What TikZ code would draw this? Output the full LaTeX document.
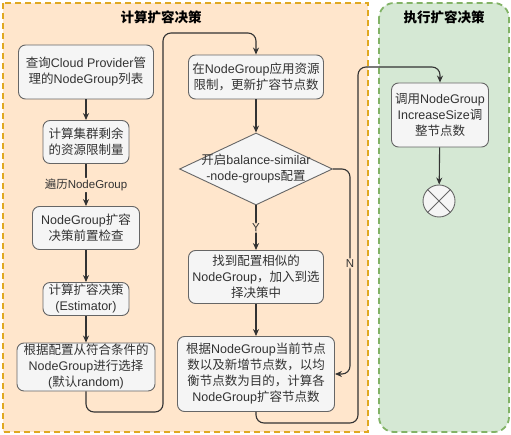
\documentclass[tikz,border=0pt]{standalone}
\usepackage{fontspec}
\setmainfont{Liberation Sans}
\newfontfamily\cjkfont{Noto Sans CJK SC}
% CJK characters in the CJK font, the rest in the main font
\XeTeXinterchartokenstate=1
\newXeTeXintercharclass\cjkclass
\newcount\cjkcode
\cjkcode="3000
\loop \XeTeXcharclass\cjkcode=\cjkclass \advance\cjkcode by 1 \ifnum\cjkcode<"3040 \repeat
\cjkcode="4E00
\loop \XeTeXcharclass\cjkcode=\cjkclass \advance\cjkcode by 1 \ifnum\cjkcode<"A000 \repeat
\cjkcode="FF00
\loop \XeTeXcharclass\cjkcode=\cjkclass \advance\cjkcode by 1 \ifnum\cjkcode<"FFF0 \repeat
\XeTeXinterchartoks 0 \cjkclass = {\cjkfont}
\XeTeXinterchartoks 4095 \cjkclass = {\cjkfont}
\XeTeXinterchartoks \cjkclass 0 = {\rmfamily}
\XeTeXinterchartoks 4095 0 = {\rmfamily}
\usetikzlibrary{arrows.meta,shapes.geometric}
\definecolor{planfill}{HTML}{FFE6CC}
\definecolor{planline}{HTML}{E0A820}
\definecolor{runfill}{HTML}{D5E8D4}
\definecolor{runline}{HTML}{82B366}
\definecolor{boxfill}{HTML}{F5F5F5}
\definecolor{boxline}{HTML}{666666}
\definecolor{ink}{HTML}{333333}
\tikzset{
	box/.style={draw=boxline, fill=boxfill, rounded corners=7pt, text=ink, align=center, inner sep=0pt, line width=0.9pt, font=\fontsize{12.5}{16}\selectfont},
	decision/.style={draw=boxline, fill=boxfill, diamond, inner sep=0pt, line width=0.9pt},
	flow/.style={draw=ink, line width=1.1pt, -{Stealth[length=7pt,width=6pt]}, rounded corners=8pt},
	tag/.style={text=ink, font=\fontsize{11.5}{13}\selectfont, inner sep=1pt},
	lane/.style={line width=1.8pt, dash pattern=on 6pt off 4pt},
	lanetitle/.style={font=\bfseries\fontsize{13.5}{16}\selectfont, text=black}
}

\begin{document}
\begin{tikzpicture}[x=1pt, y=-1pt]
			%%%%% START %%%%%
			\useasboundingbox (0, 0) rectangle (511, 435);
			
			\draw[lane, draw=planline, fill=planfill] (3, 3) rectangle (368, 432);
			\draw[lane, draw=runline, fill=runfill, rounded corners=15pt] (379, 3) rectangle (509, 432);
			\node[lanetitle] (plantitle) at (161, 17) {计算扩容决策};
			\node[lanetitle] (runtitle) at (444, 17) {执行扩容决策};
			
			\node[box, minimum width=135, minimum height=54] (query) at (86, 72) {查询Cloud Provider管\\理的NodeGroup列表};
			\node[box, minimum width=86, minimum height=43] (limit) at (86, 142) {计算集群剩余\\的资源限制量};
			\node[box, minimum width=107, minimum height=43] (precheck) at (86, 228) {NodeGroup扩容\\决策前置检查};
			\node[box, minimum width=86, minimum height=33] (estimate) at (86, 299) {计算扩容决策\\(Estimator)};
			\node[box, minimum width=138, minimum height=48] (select) at (86, 367) {根据配置从符合条件的\\NodeGroup进行选择\\(默认random)};
			
			\node[box, minimum width=135, minimum height=44] (apply) at (256, 77) {在NodeGroup应用资源\\限制，更新扩容节点数};
			\node[decision, minimum width=153, minimum height=72] (balance) at (256, 169) {};
			\node[text=ink, align=center, font=\fontsize{12.5}{16}\selectfont] (balancetext) at (balance) {开启balance-similar\\-node-groups配置};
			\node[box, minimum width=135, minimum height=53] (similar) at (256, 277) {找到配置相似的\\NodeGroup，加入到选\\择决策中};
			\node[box, minimum width=157, minimum height=75] (compute) at (256, 374) {根据NodeGroup当前节点\\数以及新增节点数，以均\\衡节点数为目的，计算各\\NodeGroup扩容节点数};
			
			\node[box, minimum width=97, minimum height=64] (increase) at (440, 115) {调用NodeGroup\\IncreaseSize调\\整节点数};
			\node[circle, draw=boxline, fill=boxfill, line width=0.9pt, minimum size=32, inner sep=0pt] (finish) at (439, 201) {};
			\draw[boxline, line width=0.9pt] (finish.north west) -- (finish.south east) (finish.north east) -- (finish.south west);
			
			\draw[flow] (query) -- (limit);
			\draw[flow] (limit) -- node[tag, fill=planfill] (walk) {遍历NodeGroup} (precheck);
			\draw[flow] (precheck) -- (estimate);
			\draw[flow] (estimate) -- (select);
			\draw[flow] (select.south) |- (163, 412) -- (163, 33) -| (apply.north);
			
			\draw[flow] (apply) -- (balance);
			\draw[flow] (balance) -- node[tag, fill=planfill] (yes) {Y} (similar);
			\draw[flow] (similar) -- (compute);
			\draw[flow] (balance.east) -- (350, 169) |- node[tag, fill=planfill, pos=0.23] (no) {N} (compute.east);
			\draw[flow] (compute.south) |- (358, 423) -- (358, 67) -| (increase.north);
			
			\draw[flow] (increase) -- (finish);
			%%%%% END %%%%%
\end{tikzpicture}
\end{document}
